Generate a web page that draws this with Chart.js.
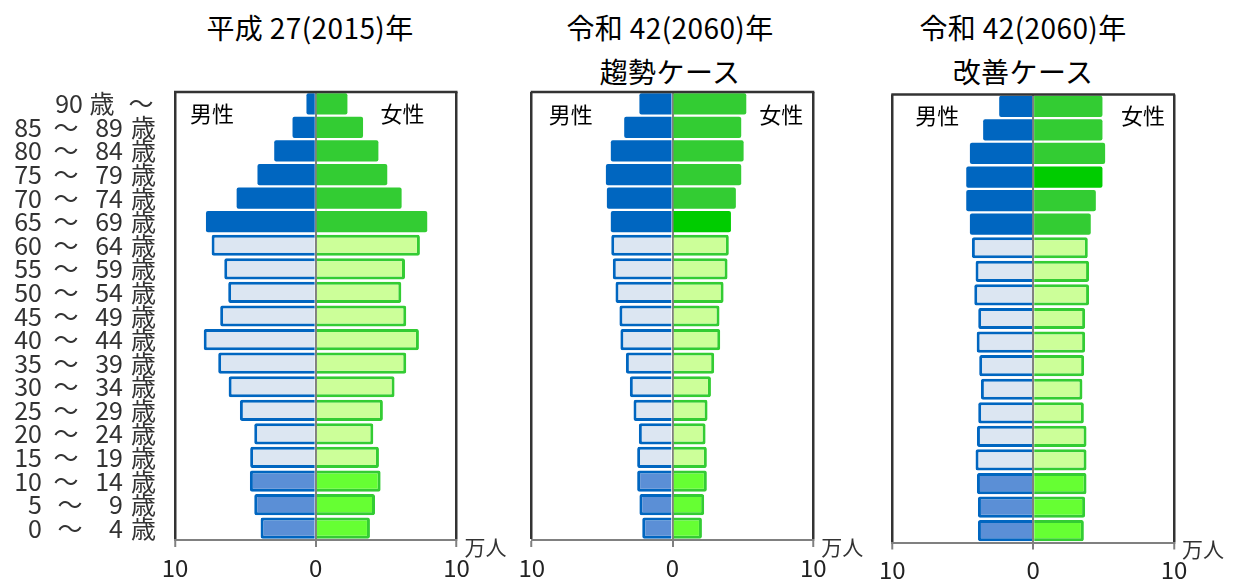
<!DOCTYPE html>
<html>
<head>
<meta charset="utf-8">
<script src="https://cdn.jsdelivr.net/npm/chart.js@4.4.1/dist/chart.umd.min.js"></script>
<style>
	body { margin: 0; background: #fff; width: 1235px; height: 579px; position: relative; overflow: hidden; font-family: "Noto Sans CJK JP", sans-serif; }
	.box { position: absolute; top: 0; }
	.title { position: absolute; width: 300px; margin-left: -150px; text-align: center; font-size: 28px; color: #000; line-height: 1; white-space: nowrap; letter-spacing: 0.4px; }
</style>
</head>
<body>
<div class="title" style="left:310px; top:13px;">平成 27(2015)年</div>
<div class="title" style="left:670px; top:13px;">令和 42(2060)年</div>
<div class="title" style="left:670px; top:57px;">趨勢ケース</div>
<div class="title" style="left:1023px; top:13px;">令和 42(2060)年</div>
<div class="title" style="left:1023px; top:57px;">改善ケース</div>

<div class="box" style="left:0px;"><canvas id="chart2015" width="520" height="579"></canvas></div>
<div class="box" style="left:480px;"><canvas id="chartTrend" width="400" height="579"></canvas></div>
<div class="box" style="left:840px;"><canvas id="chartBetter" width="395" height="579"></canvas></div>

<script>
// age groups, top to bottom
var ageGroups = ['90歳〜', '85〜89歳', '80〜84歳', '75〜79歳', '70〜74歳', '65〜69歳',
	'60〜64歳', '55〜59歳', '50〜54歳', '45〜49歳', '40〜44歳', '35〜39歳', '30〜34歳',
	'25〜29歳', '20〜24歳', '15〜19歳', '10〜14歳', '5〜9歳', '0〜4歳'];

// 万人
var male2015 = [0.66, 1.65, 2.95, 4.14, 5.62, 7.8, 7.4, 6.5, 6.22, 6.79, 7.96, 6.93, 6.19, 5.39, 4.37, 4.66, 4.68, 4.37, 3.92];
var female2015 = [2.25, 3.36, 4.45, 5.08, 6.1, 7.92, 7.4, 6.34, 6.08, 6.43, 7.33, 6.43, 5.6, 4.77, 4.09, 4.49, 4.61, 4.21, 3.85];
var maleTrend = [2.35, 3.43, 4.38, 4.73, 4.66, 4.38, 4.35, 4.24, 4.05, 3.77, 3.7, 3.31, 3.03, 2.77, 2.39, 2.51, 2.51, 2.35, 2.15];
var femaleTrend = [5.24, 4.88, 5.05, 4.88, 4.5, 4.15, 4.0, 3.91, 3.63, 3.34, 3.39, 2.96, 2.73, 2.49, 2.35, 2.44, 2.44, 2.25, 2.09];
var maleBetter = [2.41, 3.55, 4.49, 4.75, 4.75, 4.49, 4.35, 4.09, 4.18, 3.9, 4.01, 3.83, 3.71, 3.9, 3.99, 4.09, 3.99, 3.92, 3.92];
var femaleBetter = [4.92, 4.92, 5.11, 4.92, 4.45, 4.09, 3.88, 3.97, 3.97, 3.69, 3.69, 3.62, 3.5, 3.6, 3.79, 3.79, 3.79, 3.69, 3.6];

var xTicks = [-10, 0, 10];

// 65+ / 15-64 / 0-14
function band(i) {
	if (i <= 5) return 0;
	if (i <= 15) return 1;
	return 2;
}

var maleFill = ['#0066c0', '#dce6f2', '#5b8fd6'];
var femaleFill = ['#33cc33', '#ccff99', '#66ff33'];

// text drawn on the canvas: age column, 男性/女性, 万人
var pyramidText = {
	id: 'pyramidText',
	afterDraw: function(chart, args, opts) {
		var ctx = chart.ctx;
		var area = chart.chartArea;
		var y = chart.scales.y;
		ctx.save();
		ctx.textBaseline = 'middle';

		// frame top
		ctx.strokeStyle = '#333';
		ctx.lineWidth = 2.5;
		ctx.beginPath();
		ctx.moveTo(area.left - 1, area.top);
		ctx.lineTo(area.right + 1, area.top);
		ctx.stroke();

		ctx.fillStyle = '#000';
		ctx.font = '22px "Noto Sans CJK JP"';
		ctx.textAlign = 'left';
		ctx.fillText('男性', area.left + opts.inset[0], area.top + opts.sexY);
		ctx.textAlign = 'right';
		ctx.fillText('女性', area.right - opts.inset[1], area.top + opts.sexY);

		ctx.fillStyle = '#333';
		ctx.font = '21px "Noto Sans CJK JP"';
		ctx.textAlign = 'center';
		ctx.fillText('万人', area.right + 29, area.bottom + 7);

		if (opts.ages) {
			ctx.font = '25px "Noto Sans CJK JP"';
			ctx.fillStyle = '#333';
			var L = area.left;
			ageGroups.forEach(function(label, i) {
				var py = y.getPixelForValue(i);
				var m = label.match(/^(\d+)〜(\d+)歳$/);
				if (m) {
					ctx.textAlign = 'right';
					ctx.fillText(m[1], L - 133, py);
					ctx.textAlign = 'center';
					ctx.fillText('〜', L - (m[1].length == 1 ? 105 : 109), py);
					ctx.textAlign = 'right';
					ctx.fillText(m[2], L - 52, py);
					ctx.fillText('歳', L - 19, py);
				} else {
					m = label.match(/^(\d+)歳〜$/);
					ctx.textAlign = 'right';
					ctx.fillText(m[1], L - 92, py);
					ctx.textAlign = 'center';
					ctx.fillText('歳', L - 73, py);
					ctx.fillText('〜', L - 34, py);
				}
			});
		}
		ctx.restore();
	}
};

function makePyramid(id, male, female, o) {
	var maleBg = male.map(function(v, i) { return maleFill[band(i)]; });
	var femaleBg = female.map(function(v, i) {
		if (i == o.highlight) return '#00cc00';
		return femaleFill[band(i)];
	});
	// solid bars for 65+, outlined for the rest
	var border = function(ctx) { return band(ctx.dataIndex) == 0 ? 0 : 3; };

	return new Chart(document.getElementById(id), {
		type: 'bar',
		data: {
			labels: ageGroups,
			datasets: [{
				label: '男性',
				data: male.map(function(v) { return -v; }),
				backgroundColor: maleBg,
				borderColor: '#0066c0',
				borderWidth: border,
				borderRadius: 2,
				borderSkipped: 'start'
			}, {
				label: '女性',
				data: female,
				backgroundColor: femaleBg,
				borderColor: '#33cc33',
				borderWidth: border,
				borderRadius: 2,
				borderSkipped: 'start'
			}]
		},
		options: {
			indexAxis: 'y',
			responsive: false,
			animation: false,
			datasets: { bar: { categoryPercentage: 1, barPercentage: 0.9 } },
			layout: { padding: o.padding },
			plugins: {
				legend: { display: false },
				tooltip: { enabled: false },
				pyramidText: { ages: o.ages, inset: o.inset, sexY: o.sexY }
			},
			scales: {
				y: { display: false, stacked: true },
				x: {
					stacked: true,
					min: xTicks[0],
					max: xTicks[xTicks.length - 1],
					z: 1,
					afterBuildTicks: function(scale) {
						scale.ticks = xTicks.map(function(v) { return { value: v }; });
					},
					afterFit: function(scale) { scale.height = o.axisHeight; },
					border: { display: true, color: '#808080', width: 2 },
					grid: {
						color: function(c) { return c.tick && c.tick.value == 0 ? '#808080' : '#333'; },
						lineWidth: function(c) { return c.tick && c.tick.value == 0 ? 2 : 2.5; },
						tickColor: '#808080',
						tickLength: 7,
						tickWidth: 2
					},
					ticks: {
						padding: 6,
						color: '#222',
						font: { family: '"Noto Sans CJK JP"', size: 24 },
						maxRotation: 0,
						callback: function(v) { return Math.abs(v); }
					}
				}
			}
		},
		plugins: [pyramidText]
	});
}

makePyramid('chart2015', male2015, female2015, {
	padding: { left: 175, right: 63.5, top: 92, bottom: 0 },
	axisHeight: 39, ages: true, inset: [15, 32], sexY: 22, highlight: -1
});
makePyramid('chartTrend', maleTrend, femaleTrend, {
	padding: { left: 51.7, right: 66.7, top: 92, bottom: 0 },
	axisHeight: 39, ages: false, inset: [17, 10], sexY: 23, highlight: 5
});
makePyramid('chartBetter', maleBetter, femaleBetter, {
	padding: { left: 52.3, right: 61, top: 94.5, bottom: 0 },
	axisHeight: 36.5, ages: false, inset: [23, 9], sexY: 21, highlight: 3
});
</script>
</body>
</html>
